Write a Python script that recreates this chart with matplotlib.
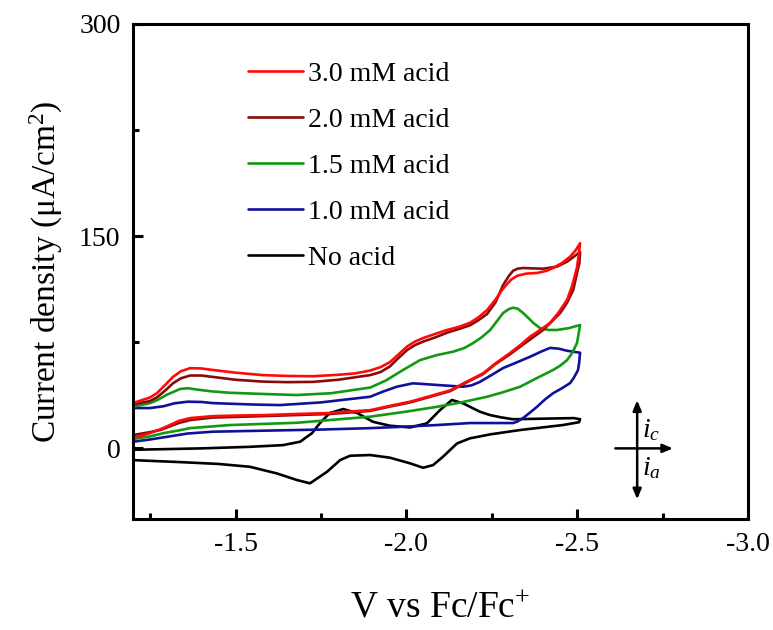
import matplotlib
matplotlib.use('Agg')
import matplotlib.pyplot as plt
from matplotlib.ticker import MultipleLocator

plt.rcParams['font.family'] = ['Liberation Serif', 'DejaVu Serif']
plt.rcParams['mathtext.fontset'] = 'custom'
plt.rcParams['mathtext.rm'] = 'Liberation Serif'
plt.rcParams['mathtext.it'] = 'Liberation Serif:italic'

# potential (V vs Fc/Fc+) and current density (uA/cm2)
# each loop = forward branch then reverse branch
black_v = [-1.2, -1.4, -1.542, -1.639, -1.689, -1.724, -1.747, -1.776, -1.815, -1.856,
           -1.902, -1.952, -2.011, -2.06, -2.098, -2.133, -2.166, -2.215, -2.245,
           -2.28, -2.312, -2.4, -2.49, -2.508,
           -2.505, -2.458, -2.333, -2.245, -2.186, -2.148, -2.107, -2.078, -2.049,
           -2.011, -1.952, -1.894, -1.835, -1.806, -1.768, -1.718, -1.68, -1.621,
           -1.542, -1.45, -1.338, -1.2]
black_i = [-1, 0, 1.1, 2.3, 4.7, 10.8, 17.9, 25, 27.8, 25,
           18.8, 16, 14.8, 17.7, 27, 34.2, 31.8, 25.9, 23.5,
           21.8, 20.6, 21, 21.4, 20.6,
           18.5, 16.5, 13, 9.9, 7.1, 3.5, -5.9, -11.8, -13.7,
           -10.6, -6.6, -4.7, -5.2, -8.3, -16.5, -24.7, -22.4, -17.7,
           -13, -11, -9.7, -8.3]

blue_v = [-1.2, -1.25, -1.29, -1.32, -1.36, -1.4, -1.434, -1.55, -1.63, -1.75, -1.894,
          -1.93, -1.972, -2.019, -2.05, -2.09, -2.166, -2.19, -2.215, -2.25, -2.283,
          -2.32, -2.362, -2.395, -2.42, -2.445, -2.47, -2.508,
          -2.508, -2.505, -2.502, -2.49, -2.479, -2.455, -2.429, -2.405, -2.382, -2.36,
          -2.341, -2.325, -2.312, -2.25, -2.186, -2.09, -1.99, -1.894, -1.75, -1.58,
          -1.434, -1.36, -1.3, -1.25, -1.2]
blue_i = [28.5, 28.5, 29.8, 31.8, 33, 32.8, 32, 31, 30.6, 32.5, 36.5,
          40, 43.6, 46, 45.5, 44.8, 43.6, 44.5, 47, 52, 56.8,
          60.5, 64.8, 68.5, 71, 70.5, 69, 67.6,
          67.6, 60, 55.4, 50, 46.2, 42.5, 39, 34.5, 29.4, 25,
          21.4, 19, 17.9, 17.9, 17.9, 16.5, 15.3, 14.3, 13.3, 12.5,
          11.8, 10.5, 8.2, 6.3, 4.7]

green_v = [-1.2, -1.25, -1.27, -1.3, -1.338, -1.36, -1.39, -1.43, -1.484, -1.6, -1.68,
           -1.78, -1.894, -1.94, -1.99, -2.04, -2.09, -2.136, -2.17, -2.195, -2.22,
           -2.245, -2.265, -2.283, -2.3, -2.312, -2.325, -2.34, -2.353, -2.372, -2.391,
           -2.415, -2.441, -2.475, -2.508,
           -2.508, -2.503, -2.499, -2.485, -2.47, -2.45, -2.429, -2.38, -2.333, -2.28,
           -2.236, -2.16, -2.09, -2.0, -1.894, -1.8, -1.68, -1.484, -1.367, -1.33,
           -1.29, -1.25, -1.2]
green_i = [29.4, 32, 34, 38, 42, 42.5, 41.5, 40.3, 39.3, 38.3, 37.7,
           39, 43, 48, 55.4, 62.4, 66, 68.3, 71, 74.4, 78.5,
           83.7, 90, 95.7, 98.5, 99.4, 98.8, 96, 93, 88.5, 85,
           83.7, 83.7, 85, 87.2,
           87.2, 80, 74.5, 67.5, 62.4, 58.5, 55.4, 49.5, 43.6, 39.5,
           36.5, 32.5, 29.4, 26, 22.4, 20.5, 18.1, 16.5, 14.3, 12.5,
           10.8, 8.5, 6.6]

darkred_v = [-1.2, -1.25, -1.27, -1.295, -1.317, -1.34, -1.367, -1.4, -1.434, -1.5,
             -1.58, -1.65, -1.727, -1.8, -1.894, -1.925, -1.952, -1.975, -2.002,
             -2.025, -2.049, -2.085, -2.119, -2.155, -2.186, -2.21, -2.236, -2.26,
             -2.283, -2.3, -2.312, -2.325, -2.341, -2.37, -2.4, -2.441, -2.47, -2.49,
             -2.508,
             -2.506, -2.5, -2.488, -2.47, -2.45, -2.4, -2.333, -2.303, -2.26, -2.224,
             -2.175, -2.128, -2.07, -2.011, -1.95, -1.894, -1.776, -1.58, -1.434,
             -1.367, -1.335, -1.308, -1.28, -1.25, -1.2]
darkred_i = [31, 33.5, 36, 41, 46, 49.5, 51.5, 51.5, 50.5, 48.5,
             47.2, 46.8, 47, 48.5, 51.8, 54, 58, 63.5, 69.5,
             73, 75.5, 78.5, 81.8, 84.5, 87, 90.5, 95, 103,
             115.5, 122, 125.5, 127, 127.5, 127.2, 127, 128.5, 132, 135.5,
             139,
             131, 125, 112, 103, 95.7, 83.7, 71.9, 66.5, 59.5, 52.5,
             46.5, 40.5, 36.5, 32.5, 29.5, 26.5, 24.3, 22.8, 21.8,
             20, 18, 15.5, 13, 11.5, 9.4]

red_v = [-1.2, -1.25, -1.27, -1.295, -1.317, -1.34, -1.367, -1.4, -1.434, -1.5,
         -1.58, -1.65, -1.727, -1.8, -1.85, -1.894, -1.925, -1.952, -1.975, -2.002,
         -2.025, -2.049, -2.085, -2.119, -2.155, -2.186, -2.21, -2.236, -2.26, -2.283,
         -2.305, -2.324, -2.35, -2.382, -2.41, -2.429, -2.455, -2.479, -2.495, -2.508,
         -2.503, -2.499, -2.485, -2.47, -2.445, -2.42, -2.39, -2.362, -2.333, -2.303,
         -2.26, -2.224, -2.175, -2.128, -2.07, -2.011, -1.95, -1.894, -1.83, -1.776,
         -1.68, -1.58, -1.5, -1.434, -1.367, -1.335, -1.308, -1.28, -1.25, -1.2]
red_i = [32, 36, 39, 45, 50.5, 54.5, 56.7, 56.5, 55.4, 53.5,
         51.8, 51.2, 51, 52, 53, 55, 57.5, 61, 66, 72,
         75.5, 78, 81, 83.7, 86, 88.8, 92.5, 97.8, 105, 113,
         119, 122, 123.5, 124, 125.5, 127.5, 131, 135.5, 140, 145,
         135, 128, 115, 105, 96, 88.6, 83.5, 79, 73, 67.4,
         60, 53, 47, 41, 37, 33, 30, 27, 26, 25,
         24.3, 23.5, 23.2, 22.8, 21.4, 19.5, 16.5, 13.5, 10.8, 7.3]

labels = ['3.0 mM acid', '2.0 mM acid', '1.5 mM acid', '1.0 mM acid', 'No acid']

fig = plt.figure(figsize=(7.73, 6.3), dpi=100)
ax = fig.add_axes([0.172, 0.176, 0.796, 0.786])

lw = 1.9
kw = dict(lw=lw, solid_joinstyle='round', solid_capstyle='round')
l_black, = ax.plot(black_v, black_i, color='black', **kw)
l_blue, = ax.plot(blue_v, blue_i, color='#10109a', **kw)
l_green, = ax.plot(green_v, green_i, color='#119a11', **kw)
l_dred, = ax.plot(darkred_v, darkred_i, color='#8a0a0a', **kw)
l_red, = ax.plot(red_v, red_i, color='#ff0a0a', **kw)

ax.set_xlim(-1.2, -3.0)
ax.set_ylim(-50, 300)
ax.xaxis.set_major_locator(MultipleLocator(0.5))
ax.xaxis.set_minor_locator(MultipleLocator(0.25))
ax.yaxis.set_major_locator(MultipleLocator(150))
ax.yaxis.set_minor_locator(MultipleLocator(75))
ax.xaxis.set_major_formatter(plt.FuncFormatter(lambda v, p: '%.1f' % v))

for s in ax.spines.values():
    s.set_linewidth(2.2)
ax.tick_params(which='both', direction='in', width=2.2, labelsize=20, pad=9,
               top=False, right=False)
ax.tick_params(which='major', length=7)
ax.tick_params(which='minor', length=4)

ax.set_xlabel('V vs Fc/Fc$^{+}$', fontsize=27)
ax.set_ylabel('Current density (μA/cm$^{2}$)', fontsize=24)
ax.xaxis.set_label_coords(0.5, -0.143)
ax.yaxis.set_label_coords(-0.11, 0.5)

ax.legend([l_red, l_dred, l_green, l_blue, l_black], labels, frameon=False,
          fontsize=20, loc='upper left', bbox_to_anchor=(0.146, 0.975),
          handlelength=2.0, handletextpad=0.18, labelspacing=0.74)

# i_c / i_a convention arrows
arr = dict(arrowstyle='-|>,head_length=0.6,head_width=0.25', color='black', lw=1.8,
           shrinkA=0, shrinkB=0)
ax.annotate('', xy=(-2.675, 34), xytext=(-2.675, 0), arrowprops=arr)
ax.annotate('', xy=(-2.675, -36), xytext=(-2.675, 0), arrowprops=arr)
ax.annotate('', xy=(-2.78, 0), xytext=(-2.611, 0), arrowprops=arr)
ax.text(-2.69, 13, '$i_c$', fontsize=20, ha='left', va='center')
ax.text(-2.69, -14, '$i_a$', fontsize=20, ha='left', va='center')

fig.savefig('out.png', dpi=100)
